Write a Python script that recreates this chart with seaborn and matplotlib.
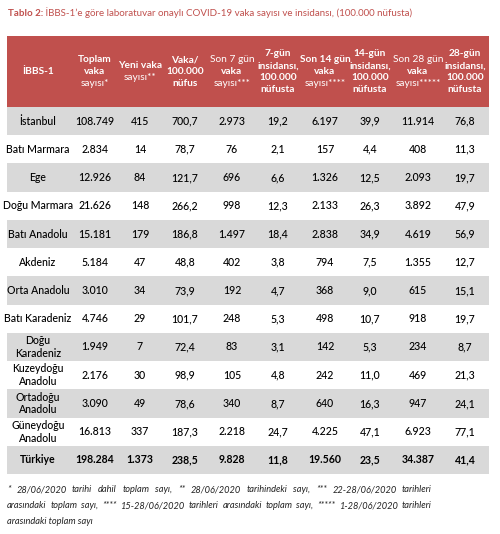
import matplotlib
matplotlib.use("Agg")
import matplotlib.pyplot as plt
import seaborn as sns
import numpy as np
from matplotlib.colors import ListedColormap

regions = ["İstanbul", "Batı Marmara", "Ege", "Doğu Marmara", "Batı Anadolu", "Akdeniz",
           "Orta Anadolu", "Batı Karadeniz", "Doğu\nKaradeniz", "Kuzeydoğu\nAnadolu",
           "Ortadoğu\nAnadolu", "Güneydoğu\nAnadolu", "Türkiye"]
toplam = [108749, 2834, 12926, 21626, 15181, 5184, 3010, 4746, 1949, 2176, 3090, 16813, 198284]
yeni = [415, 14, 84, 148, 179, 47, 34, 29, 7, 30, 49, 337, 1373]
vaka_100k = [700.7, 78.7, 121.7, 266.2, 186.8, 48.8, 73.9, 101.7, 72.4, 98.9, 78.6, 187.3, 238.5]
son7 = [2973, 76, 696, 998, 1497, 402, 192, 248, 83, 105, 340, 2218, 9828]
ins7 = [19.2, 2.1, 6.6, 12.3, 18.4, 3.8, 4.7, 5.3, 3.1, 4.8, 8.7, 24.7, 11.8]
son14 = [6197, 157, 1326, 2133, 2838, 794, 368, 498, 142, 242, 640, 4225, 19560]
ins14 = [39.9, 4.4, 12.5, 26.3, 34.9, 7.5, 9.0, 10.7, 5.3, 11.0, 16.3, 47.1, 23.5]
son28 = [11914, 408, 2093, 3892, 4619, 1355, 615, 918, 234, 469, 947, 6923, 34387]
ins28 = [76.8, 11.3, 19.7, 47.9, 56.9, 12.7, 15.1, 19.7, 8.7, 21.3, 24.1, 77.1, 41.4]

# header lines per column: (text, bold)
headers = [
    [("İBBS-1", True)],
    [("Toplam", True), ("vaka", True), ("sayısı*", False)],
    [("Yeni vaka", True), ("sayısı**", False)],
    [("Vaka/", True), ("100.000", True), ("nüfus", True)],
    [("Son 7 gün", False), ("vaka", True), ("sayısı***", False)],
    [("7-gün", True), ("insidansı,", True), ("100.000", True), ("nüfusta", True)],
    [("Son 14 gün", True), ("vaka", True), ("sayısı****", False)],
    [("14-gün", True), ("insidansı,", True), ("100.000", True), ("nüfusta", True)],
    [("Son 28 gün", False), ("vaka", True), ("sayısı*****", False)],
    [("28-gün", True), ("insidansı,", True), ("100.000", True), ("nüfusta", True)],
]

title_bold = "Tablo 2:"
title_rest = " İBBS-1’e göre laboratuvar onaylı COVID-19 vaka sayısı ve insidansı, (100.000 nüfusta)"
footnote = [
    "* 28/06/2020 tarihi dahil toplam sayı, ** 28/06/2020 tarihindeki sayı, *** 22-28/06/2020 tarihleri",
    "arasındaki toplam sayı, **** 15-28/06/2020 tarihleri arasındaki toplam sayı, ***** 1-28/06/2020 tarihleri",
    "arasındaki toplam sayı",
]

RED = "#c0504d"
GRAY = "#d9d9d9"
FONT = "Lato"
W, H = 500, 534


def tr_int(v):
    return f"{v:,}".replace(",", ".")


def tr_dec(v):
    return f"{v:.1f}".replace(".", ",")


# table body as strings
columns = [toplam, yeni, vaka_100k, son7, ins7, son14, ins14, son28, ins28]
fmts = [tr_int, tr_int, tr_dec, tr_int, tr_dec, tr_int, tr_dec, tr_int, tr_dec]
cells = [[regions[i]] + [f(col[i]) for col, f in zip(columns, fmts)] for i in range(len(regions))]

# column centres in pixels
col_px = [38, 95, 140, 185, 232, 278, 325, 370, 418, 465]
left_px, right_px = 7, 489
head_top, head_bot, body_bot = 36, 107, 474

sns.set_style("white")
plt.rcParams["font.family"] = [FONT, "DejaVu Sans"]

fig = plt.figure(figsize=(W / 100, H / 100), dpi=100)


def add_ax(top, bot):
    return fig.add_axes([left_px / W, 1 - bot / H, (right_px - left_px) / W, (bot - top) / H])


def xfrac(px):
    return (px - left_px) / (right_px - left_px)


# header band
ax_h = add_ax(head_top, head_bot)
sns.heatmap(np.zeros((1, 1)), cmap=ListedColormap([RED]), cbar=False, ax=ax_h,
            xticklabels=False, yticklabels=False)
line_step = 11.7 / (head_bot - head_top)
for cx, lines in zip(col_px, headers):
    n = len(lines)
    for k, (txt, bold) in enumerate(lines):
        y = 0.5 + (n - 1) / 2 * line_step - k * line_step
        ax_h.text(xfrac(cx), y, txt, transform=ax_h.transAxes, ha="center", va="center",
                  color="white", fontsize=7.3, fontweight="bold" if bold else "normal")

# body stripes
ax_b = add_ax(head_bot, body_bot)
stripes = np.array([[1 - i % 2] for i in range(len(regions))])
sns.heatmap(stripes, cmap=ListedColormap(["white", GRAY]), vmin=0, vmax=1, cbar=False,
            ax=ax_b, xticklabels=False, yticklabels=False)
for i, row in enumerate(cells):
    bold = row[0] == "Türkiye"
    for j, txt in enumerate(row):
        ax_b.text(xfrac(col_px[j]), i + 0.5, txt, ha="center", va="center",
                  fontsize=7.6, color="black", linespacing=1.2,
                  fontweight="bold" if bold else "medium")

# title
t1 = fig.text(8 / W, 1 - 13 / H, title_bold, color=RED, fontsize=7.0, fontweight="bold",
              va="center", ha="left")
fig.canvas.draw()
bb = t1.get_window_extent()
fig.text(bb.x1 / W, 1 - 13 / H, title_rest, color=RED, fontsize=7.0, va="center", ha="left")

# footnote, justified
renderer = fig.canvas.get_renderer()
foot_y = [490, 506, 521]
foot_right = 432
for li, (line, yp) in enumerate(zip(footnote, foot_y)):
    words = line.split(" ")
    if li == len(footnote) - 1:
        fig.text(left_px / W, 1 - yp / H, line, fontsize=6.7, style="italic",
                 color="#222222", va="center")
        continue
    objs = [fig.text(0, 1 - yp / H, w, fontsize=6.7, style="italic", color="#222222",
                     va="center") for w in words]
    widths = [o.get_window_extent(renderer).width for o in objs]
    gap = (foot_right - left_px - sum(widths)) / (len(words) - 1)
    x = left_px
    for o, w in zip(objs, widths):
        o.set_x(x / W)
        x += w + gap

fig.savefig("out.png", dpi=100)
